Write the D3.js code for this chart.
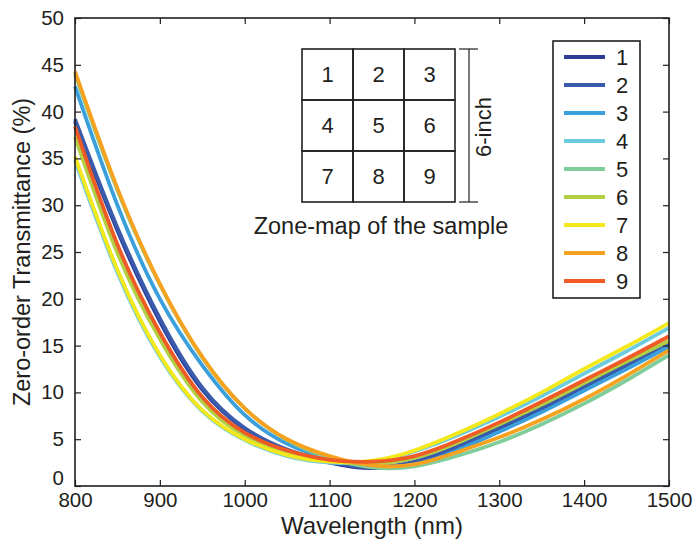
<!DOCTYPE html>
<html>
<head>
<meta charset="utf-8">
<script src="https://cdn.jsdelivr.net/npm/d3@7"></script>
<style>
body { margin: 0; background: #fff; }
text { font-family: "Liberation Sans", Arial, Helvetica, sans-serif; fill: #231f20; }
</style>
</head>
<body>
<div id="chart"></div>
<script>
// wavelength samples (nm)
var wavelengths = [800, 850, 900, 950, 1000, 1050, 1100, 1150, 1200, 1250, 1300, 1350, 1400, 1450, 1500];

// zero-order transmittance (%) per zone
var zone1 = [38.9, 27.3, 17.6, 10.3, 6.1, 3.8, 2.5, 1.9, 2.5, 4.1, 6.1, 8.2, 10.5, 12.8, 15.0];
var zone2 = [39.2, 27.6, 17.9, 10.5, 6.2, 3.9, 2.6, 2.0, 2.6, 4.2, 6.3, 8.4, 10.7, 13.0, 15.3];
var zone3 = [42.7, 30.0, 20.0, 12.9, 7.6, 4.5, 2.9, 2.1, 2.3, 3.8, 5.8, 7.9, 10.2, 12.5, 14.9];
var zone4 = [34.8, 22.8, 13.8, 8.0, 4.9, 3.2, 2.5, 2.6, 3.7, 5.4, 7.4, 9.6, 12.0, 14.4, 16.9];
var zone5 = [44.0, 31.6, 21.5, 13.7, 8.3, 4.9, 3.0, 2.0, 2.1, 3.2, 4.7, 6.6, 8.8, 11.3, 14.0];
var zone6 = [37.3, 24.9, 15.7, 9.0, 5.4, 3.6, 2.7, 2.4, 3.0, 4.6, 6.6, 8.7, 11.0, 13.3, 15.5];
var zone7 = [35.2, 23.1, 14.0, 8.1, 5.0, 3.3, 2.6, 2.7, 3.8, 5.6, 7.7, 10.0, 12.5, 14.9, 17.4];
var zone8 = [44.3, 31.8, 21.6, 13.8, 8.3, 5.0, 3.2, 2.2, 2.3, 3.6, 5.2, 7.1, 9.3, 11.8, 14.5];
var zone9 = [38.4, 25.8, 16.4, 9.5, 5.7, 3.8, 2.8, 2.6, 3.2, 4.8, 6.8, 9.0, 11.3, 13.6, 16.0];

var zoneNames = ['1', '2', '3', '4', '5', '6', '7', '8', '9'];
var zoneSeries = [zone1, zone2, zone3, zone4, zone5, zone6, zone7, zone8, zone9];
var zoneColors = ['#2e3d96', '#3a5aab', '#3a9fdb', '#6bcbdf', '#7fcd9b', '#b1cf42', '#f2e81c', '#f7a21f', '#ef5a25'];

var xTicks = [800, 900, 1000, 1100, 1200, 1300, 1400, 1500];
var yTicks = [0, 5, 10, 15, 20, 25, 30, 35, 40, 45, 50];

var W = 693, H = 543;
var margin = { top: 18, right: 24, bottom: 57, left: 75 };
var width = W - margin.left - margin.right,
	height = H - margin.top - margin.bottom;

var svg = d3.select('#chart').append('svg')
	.attr('width', W)
	.attr('height', H);

var g = svg.append('g')
	.attr('transform', 'translate(' + margin.left + ',' + margin.top + ')');

var x = d3.scaleLinear().domain([800, 1500]).range([0, width]);
var y = d3.scaleLinear().domain([0, 50]).range([height, 0]);

// curves
var line = d3.line()
	.x(function (d) { return x(d[0]); })
	.y(function (d) { return y(d[1]); })
	.curve(d3.curveNatural);

zoneSeries.forEach(function (vals, i) {
	var pts = wavelengths.map(function (w, j) { return [w, vals[j]]; });
	g.append('path')
		.attr('d', line(pts))
		.attr('fill', 'none')
		.attr('stroke', zoneColors[i])
		.attr('stroke-width', 3.8);
});

// axes (ticks inside, on all four sides)
var tickLen = 6;
var fontTick = 20.5;

var xAxis = d3.axisBottom(x).tickValues(xTicks).tickFormat(d3.format('d')).tickSizeInner(-tickLen).tickSizeOuter(0).tickPadding(6);
var xAxisTop = d3.axisTop(x).tickValues(xTicks).tickSizeInner(-tickLen).tickSizeOuter(0).tickFormat('');
var yAxis = d3.axisLeft(y).tickValues(yTicks).tickFormat(d3.format('d')).tickSizeInner(-tickLen).tickSizeOuter(0).tickPadding(11);
var yAxisRight = d3.axisRight(y).tickValues(yTicks).tickSizeInner(-tickLen).tickSizeOuter(0).tickFormat('');

var gx = g.append('g').attr('transform', 'translate(0,' + height + ')').call(xAxis);
g.append('g').call(xAxisTop);
var gy = g.append('g').call(yAxis);
g.append('g').attr('transform', 'translate(' + width + ',0)').call(yAxisRight);

g.selectAll('.domain').remove();
g.selectAll('.tick line').attr('stroke', '#231f20').attr('stroke-width', 1.2);
g.selectAll('.tick text').attr('font-size', fontTick).style('font-family', '"Liberation Sans", Arial, sans-serif').attr('fill', '#231f20');

// MATLAB puts the "0" a bit up-left so it clears the 800 label
gy.selectAll('.tick').filter(function (d) { return d === 0; }).select('text').attr('dy', '-0.05em');
gx.selectAll('.tick text').attr('dy', '0.72em');

g.append('rect')
	.attr('width', width)
	.attr('height', height)
	.attr('fill', 'none')
	.attr('stroke', '#231f20')
	.attr('stroke-width', 1.6);

// axis titles
svg.append('text')
	.attr('x', margin.left + width / 2)
	.attr('y', 534)
	.attr('text-anchor', 'middle')
	.attr('font-size', 24)
	.text('Wavelength (nm)');

svg.append('text')
	.attr('transform', 'translate(30,' + (margin.top + height / 2) + ') rotate(-90)')
	.attr('text-anchor', 'middle')
	.attr('font-size', 23.5)
	.text('Zero-order Transmittance (%)');

// legend
var legend = svg.append('g').attr('transform', 'translate(553,41)');
legend.append('rect')
	.attr('width', 87)
	.attr('height', 257)
	.attr('fill', '#fff')
	.attr('stroke', '#231f20')
	.attr('stroke-width', 1.6);

var ly = d3.scalePoint().domain(zoneNames).range([16, 240]);
zoneNames.forEach(function (name, i) {
	legend.append('line')
		.attr('x1', 11).attr('x2', 52)
		.attr('y1', ly(name)).attr('y2', ly(name))
		.attr('stroke', zoneColors[i])
		.attr('stroke-width', 3.8);
	legend.append('text')
		.attr('x', 63)
		.attr('y', ly(name))
		.attr('dy', '0.36em')
		.attr('font-size', 22)
		.text(name);
});

// zone-map inset
var map = svg.append('g').attr('transform', 'translate(302,49)');
var cell = d3.scaleBand().domain([0, 1, 2]).range([0, 153]);
var cells = zoneNames.map(function (name, i) { return { name: name, col: i % 3, row: Math.floor(i / 3) }; });

map.selectAll('rect.cell')
	.data(cells)
	.enter()
	.append('rect')
	.attr('class', 'cell')
	.attr('x', function (d) { return cell(d.col); })
	.attr('y', function (d) { return cell(d.row); })
	.attr('width', cell.bandwidth())
	.attr('height', cell.bandwidth())
	.attr('fill', 'none')
	.attr('stroke', '#231f20')
	.attr('stroke-width', 1.6);

map.selectAll('text.cell')
	.data(cells)
	.enter()
	.append('text')
	.attr('class', 'cell')
	.attr('x', function (d) { return cell(d.col) + cell.bandwidth() / 2; })
	.attr('y', function (d) { return cell(d.row) + cell.bandwidth() / 2; })
	.attr('dy', '0.36em')
	.attr('text-anchor', 'middle')
	.attr('font-size', 22)
	.text(function (d) { return d.name; });

// 6-inch bracket
var bx = 167;
map.append('line').attr('x1', bx).attr('x2', bx).attr('y1', 0).attr('y2', 153).attr('stroke', '#231f20').attr('stroke-width', 1.2);
map.append('line').attr('x1', bx - 10).attr('x2', bx + 9).attr('y1', 0).attr('y2', 0).attr('stroke', '#231f20').attr('stroke-width', 1.2);
map.append('line').attr('x1', bx - 10).attr('x2', bx + 9).attr('y1', 153).attr('y2', 153).attr('stroke', '#231f20').attr('stroke-width', 1.2);
map.append('text')
	.attr('transform', 'translate(' + (bx + 22) + ',78) rotate(-90)')
	.attr('text-anchor', 'middle')
	.attr('font-size', 22)
	.text('6-inch');

svg.append('text')
	.attr('x', 381)
	.attr('y', 234)
	.attr('text-anchor', 'middle')
	.attr('font-size', 23.5)
	.text('Zone-map of the sample');
</script>
</body>
</html>
